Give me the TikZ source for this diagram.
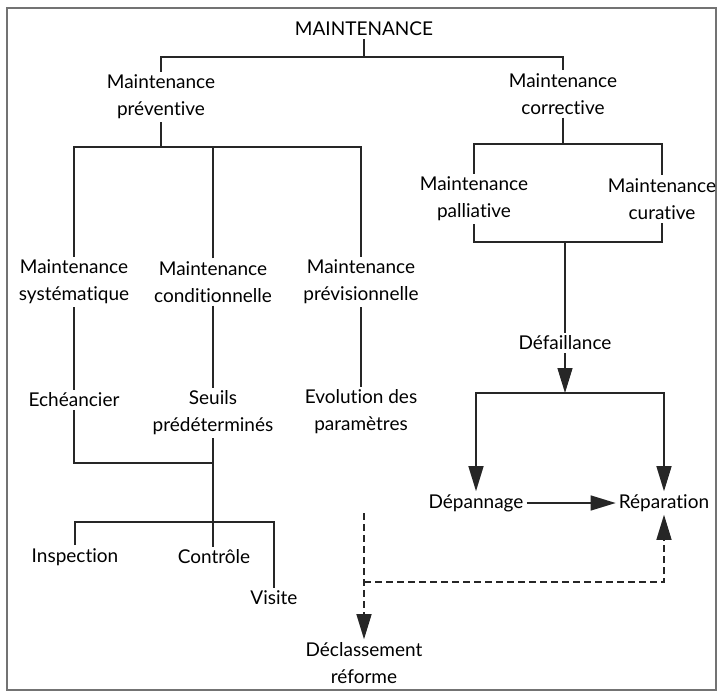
\documentclass[tikz,border=0pt]{standalone}
\usepackage{fontspec}
\setmainfont{Lato}[Ligatures={NoCommon}]
\usetikzlibrary{arrows.meta}
\tikzset{
	lbl/.style={align=center, inner sep=3pt, text=black, font=\fontsize{19}{27}\selectfont},
	link/.style={line width=1.3pt, draw=black!85},
	arr/.style={-{Triangle[length=25pt,width=15pt]}},
}

\begin{document}
\begin{tikzpicture}[x=1pt, y=-1pt]
			%%%%% START %%%%%
			\useasboundingbox (0,0) rectangle (718,693);
			\draw[line width=1.5pt, color=black!55] (7,8) rectangle (716,690);
			
			\node[lbl] (root) at (364,29) {MAINTENANCE};
			\node[lbl] (prev) at (161,97) {Maintenance\\préventive};
			\node[lbl] (corr) at (563,94) {Maintenance\\corrective};
			
			\node[lbl] (syst) at (74,282) {Maintenance\\systématique};
			\node[lbl] (cond) at (213,282) {Maintenance\\conditionnelle};
			\node[lbl] (previs) at (361,282) {Maintenance\\prévisionnelle};
			\node[lbl] (pall) at (474,199) {Maintenance\\palliative};
			\node[lbl] (cura) at (662,199) {Maintenance\\curative};
			\node[lbl] (defa) at (565,343) {Défaillance};
			
			\node[lbl] (ech) at (74,400) {Echéancier};
			\node[lbl] (seuil) at (213,413) {Seuils\\prédéterminés};
			\node[lbl] (evol) at (361,412) {Evolution des\\paramètres};
			\node[lbl] (depan) at (476,503) {Dépannage};
			\node[lbl] (repar) at (664,503) {Réparation};
			
			\node[lbl] (insp) at (75,557) {Inspection};
			\node[lbl] (ctrl) at (214,557) {Contrôle};
			\node[lbl] (visite) at (274,598) {Visite};
			\node[lbl] (decl) at (364,663) {Déclassement\\réforme};
			
			\coordinate (j0) at (364,57);
			\draw[link] (root) -- (j0);
			\draw[link] (prev) |- (j0) -| (corr);
			
			\coordinate (j1) at (161,147);
			\draw[link] (prev) -- (j1);
			\draw[link] (syst) |- (j1) -| (previs);
			\draw[link] (cond) -- (cond |- j1);
			
			\coordinate (j2) at (563,144);
			\draw[link] (corr) -- (j2);
			\draw[link] (pall) |- (j2) -| (cura);
			
			\coordinate (j3) at (565,242);
			\draw[link] (pall) |- (j3) -| (cura);
			\draw[link] (j3) -- (defa);
			
			\coordinate (j4) at (565,393);
			\draw[link, arr] (defa) -- (j4);
			\draw[link, arr] (j4) -| (depan);
			\draw[link, arr] (j4) -| (repar);
			\draw[link, arr] (depan) -- (repar);
			
			\draw[link] (syst) -- (ech);
			\draw[link] (cond) -- (seuil);
			\draw[link] (previs) -- (evol);
			
			\coordinate (j5) at (213,463);
			\draw[link] (ech) |- (j5);
			\coordinate (j6) at (213,522);
			\draw[link] (seuil) -- (j6);
			\draw[link] (insp) |- (j6) -| (visite);
			\draw[link] (j6) -- (j6 |- ctrl.north);
			
			\coordinate (dstart) at (364,513);
			\coordinate (j7) at (364,582);
			\draw[link, dashed, dash pattern=on 7pt off 4pt, arr] (dstart) -- (decl);
			\draw[link, dashed, dash pattern=on 7pt off 4pt, arr] (j7) -| (repar);
			%%%%% END %%%%%
\end{tikzpicture}
\end{document}
